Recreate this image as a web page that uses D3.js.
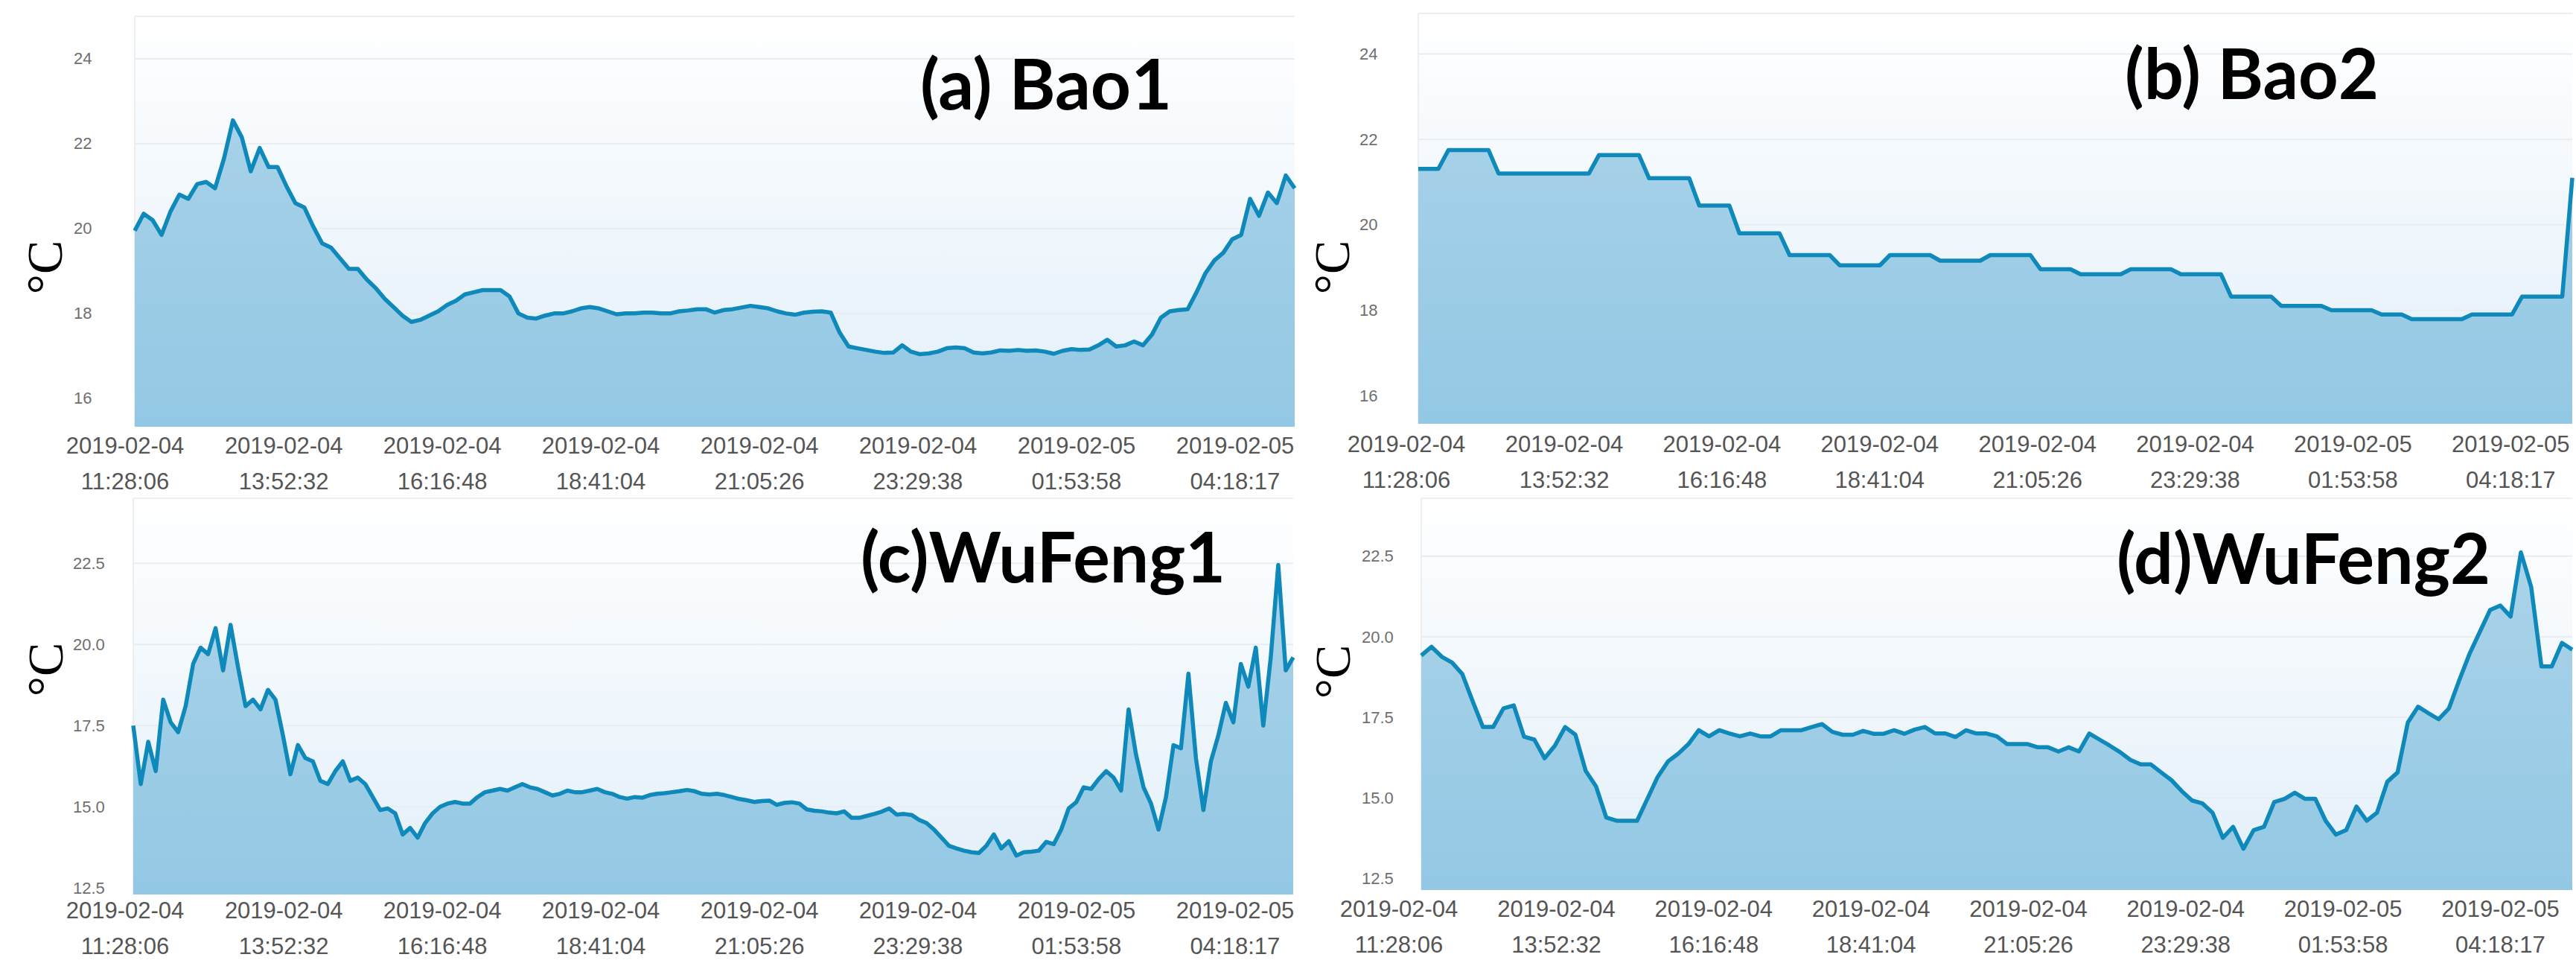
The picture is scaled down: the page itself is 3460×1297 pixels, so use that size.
<!DOCTYPE html>
<html><head><meta charset="utf-8">
<script src="https://cdn.jsdelivr.net/npm/d3@7"></script>
<style>body{margin:0;background:#fff}svg{display:block}</style></head>
<body><svg id="chart" width="3460" height="1297"></svg>
<script>
// ---------- data ----------
const startTime = "2019-02-04 11:28:06";
const endTime   = "2019-02-05 05:03:43";
const tickDates = ["2019-02-04","2019-02-04","2019-02-04","2019-02-04","2019-02-04","2019-02-04","2019-02-05","2019-02-05"];
const tickClock = ["11:28:06","13:52:32","16:16:48","18:41:04","21:05:26","23:29:38","01:53:58","04:18:17"];
const yTicksBao = [16, 18, 20, 22, 24];
const yTicksWu  = [12.5, 15, 17.5, 20, 22.5];
const titles = ["(a) Bao1", "(b) Bao2", "(c)WuFeng1", "(d)WuFeng2"];

const seriesBao1 = [19.95,20.35,20.2,19.85,20.4,20.8,20.7,21.05,21.1,20.95,
21.65,22.55,22.15,21.35,21.9,21.45,21.45,21.0,20.6,20.5,
20.05,19.65,19.55,19.3,19.05,19.05,18.8,18.6,18.35,18.15,
17.95,17.8,17.85,17.95,18.05,18.2,18.3,18.45,18.5,18.55,
18.55,18.55,18.4,18.0,17.9,17.88,17.95,18.0,18.0,18.05,
18.12,18.15,18.12,18.05,17.98,18.0,18.0,18.02,18.02,18.0,
18.0,18.05,18.07,18.1,18.1,18.02,18.08,18.1,18.14,18.18,
18.15,18.12,18.05,18.0,17.97,18.02,18.04,18.05,18.02,17.55,
17.22,17.18,17.14,17.1,17.07,17.08,17.25,17.1,17.04,17.06,
17.1,17.18,17.2,17.18,17.08,17.06,17.08,17.13,17.12,17.14,
17.12,17.13,17.1,17.05,17.12,17.16,17.14,17.15,17.25,17.38,
17.22,17.25,17.34,17.25,17.5,17.9,18.05,18.08,18.1,18.5,
18.95,19.25,19.43,19.75,19.85,20.7,20.3,20.85,20.6,21.25,
20.95];

const seriesBao2 = [21.31,21.31,21.31,21.75,21.75,21.75,21.75,21.75,21.2,21.2,
21.2,21.2,21.2,21.2,21.2,21.2,21.2,21.2,21.63,21.63,
21.63,21.63,21.63,21.09,21.09,21.09,21.09,21.09,20.45,20.45,
20.45,20.45,19.8,19.8,19.8,19.8,19.8,19.29,19.29,19.29,
19.29,19.29,19.05,19.05,19.05,19.05,19.05,19.29,19.29,19.29,
19.29,19.29,19.16,19.16,19.16,19.16,19.16,19.29,19.29,19.29,
19.29,19.29,18.96,18.96,18.96,18.96,18.84,18.84,18.84,18.84,
18.84,18.96,18.96,18.96,18.96,18.96,18.84,18.84,18.84,18.84,
18.84,18.32,18.32,18.32,18.32,18.32,18.1,18.1,18.1,18.1,
18.1,18.0,18.0,18.0,18.0,18.0,17.9,17.9,17.9,17.79,
17.79,17.79,17.79,17.79,17.79,17.9,17.9,17.9,17.9,17.9,
18.32,18.32,18.32,18.32,18.32,21.1];

const seriesWuFeng1 = [17.5,15.7,17.0,16.1,18.3,17.6,17.3,18.1,19.4,19.9,
19.7,20.5,19.2,20.6,19.3,18.1,18.3,18.0,18.6,18.3,
17.2,16.0,16.9,16.5,16.4,15.8,15.7,16.1,16.4,15.8,
15.9,15.7,15.3,14.9,14.95,14.8,14.15,14.35,14.05,14.5,
14.8,15.0,15.1,15.15,15.1,15.1,15.3,15.45,15.5,15.55,
15.5,15.6,15.7,15.6,15.55,15.45,15.35,15.4,15.5,15.45,
15.45,15.5,15.55,15.45,15.4,15.3,15.25,15.3,15.28,15.36,
15.4,15.42,15.45,15.48,15.52,15.48,15.4,15.38,15.4,15.36,
15.3,15.24,15.2,15.15,15.18,15.19,15.06,15.12,15.14,15.1,
14.92,14.88,14.86,14.82,14.8,14.86,14.66,14.66,14.72,14.78,
14.85,14.95,14.76,14.78,14.75,14.6,14.5,14.3,14.05,13.8,
13.72,13.65,13.6,13.58,13.8,14.15,13.72,13.94,13.5,13.6,
13.62,13.65,13.92,13.85,14.3,14.95,15.14,15.6,15.55,15.85,
16.1,15.9,15.5,18.0,16.6,15.6,15.1,14.3,15.3,16.9,
16.8,19.1,16.5,14.9,16.4,17.2,18.2,17.6,19.4,18.7,
19.9,17.5,19.6,22.45,19.2,19.6];

const seriesWuFeng2 = [19.42,19.69,19.38,19.2,18.84,18.0,17.2,17.2,17.78,17.87,
16.9,16.81,16.23,16.62,17.2,16.96,15.84,15.36,14.39,14.29,
14.29,14.29,14.97,15.65,16.13,16.37,16.67,17.1,16.91,17.1,
17.0,16.91,17.0,16.91,16.91,17.1,17.1,17.1,17.2,17.29,
17.05,16.96,16.96,17.08,16.99,16.99,17.1,16.99,17.12,17.2,
17.0,17.0,16.89,17.1,17.0,17.0,16.91,16.67,16.67,16.67,
16.57,16.57,16.44,16.57,16.44,17.0,16.81,16.62,16.42,16.18,
16.04,16.04,15.79,15.55,15.21,14.92,14.83,14.54,13.76,14.1,
13.42,14.0,14.1,14.87,14.97,15.16,14.97,14.97,14.29,13.86,
14.0,14.73,14.29,14.54,15.5,15.79,17.34,17.83,17.63,17.44,
17.78,18.65,19.47,20.15,20.83,20.97,20.63,22.62,21.55,19.08,
19.08,19.81,19.6];

// ---------- layout ----------
const panels = [
  {title: titles[0], data: seriesBao1, yTicks: yTicksBao, dec: 0,
   left: 181, right: 1739, top: 22, bottom: 573, yMin: 15.33, yMax: 25,
   yLabX: 99, unitX: 60, unitY: 359, lab1: 609, lab2: 657, labShift: -13,
   tX: 1236, tBase: 147, tW: 338},
  {title: titles[1], data: seriesBao2, yTicks: yTicksBao, dec: 0,
   left: 1905, right: 3455, top: 18, bottom: 569, yMin: 15.34, yMax: 24.95,
   yLabX: 1826, unitX: 1789, unitY: 359, lab1: 607, lab2: 655, labShift: -16,
   tX: 2854, tBase: 133, tW: 341},
  {title: titles[2], data: seriesWuFeng1, yTicks: yTicksWu, dec: 1,
   left: 179, right: 1737, top: 669, bottom: 1201, yMin: 12.3, yMax: 24.5,
   yLabX: 98, unitX: 61, unitY: 899, lab1: 1233, lab2: 1281, labShift: -11,
   tX: 1156, tBase: 782, tW: 490},
  {title: titles[3], data: seriesWuFeng2, yTicks: yTicksWu, dec: 1,
   left: 1909, right: 3455, top: 669, bottom: 1195, yMin: 12.14, yMax: 24.3,
   yLabX: 1829, unitX: 1790, unitY: 902, lab1: 1231, lab2: 1279, labShift: -30,
   tX: 2843, tBase: 784, tW: 502}
];

const parse = d3.timeParse("%Y-%m-%d %H:%M:%S");
const t0 = parse(startTime), t1 = parse(endTime);
const svg = d3.select("#chart");
svg.append("rect").attr("width", 3460).attr("height", 1297).attr("fill", "#fff");
const defs = svg.append("defs");

panels.forEach((p, pi) => {
  const x = d3.scaleTime().domain([t0, t1]).range([p.left, p.right]);
  const y = d3.scaleLinear().domain([p.yMin, p.yMax]).range([p.bottom, p.top]);
  const n = p.data.length;
  const step = (t1 - t0) / (n - 1);
  const pts = p.data.map((v, i) => ({t: new Date(+t0 + i * step), v}));

  const bg = defs.append("linearGradient").attr("id", "bg" + pi)
    .attr("gradientUnits", "userSpaceOnUse").attr("x1", 0).attr("x2", 0)
    .attr("y1", p.top).attr("y2", p.bottom);
  bg.append("stop").attr("offset", 0).attr("stop-color", "#ffffff");
  bg.append("stop").attr("offset", 1).attr("stop-color", "#e2eff9");
  const ag = defs.append("linearGradient").attr("id", "ag" + pi)
    .attr("gradientUnits", "userSpaceOnUse").attr("x1", 0).attr("x2", 0)
    .attr("y1", p.top).attr("y2", p.bottom);
  ag.append("stop").attr("offset", 0).attr("stop-color", "#aed5ea");
  ag.append("stop").attr("offset", 1).attr("stop-color", "#93c8e4");

  const g = svg.append("g");
  g.append("rect").attr("x", p.left).attr("y", p.top)
    .attr("width", p.right - p.left).attr("height", p.bottom - p.top)
    .attr("fill", `url(#bg${pi})`);
  g.append("line").attr("x1", p.left).attr("x2", p.right)
    .attr("y1", p.top).attr("y2", p.top).attr("stroke", "#eceef0").attr("stroke-width", 2);
  g.append("line").attr("x1", p.left).attr("x2", p.left)
    .attr("y1", p.top).attr("y2", p.bottom).attr("stroke", "#eceef0").attr("stroke-width", 2);

  // grid + y labels
  g.selectAll(".grid").data(p.yTicks).enter().append("line")
    .attr("x1", p.left).attr("x2", p.right)
    .attr("y1", d => y(d)).attr("y2", d => y(d))
    .attr("stroke", "#e8edf2").attr("stroke-width", 2);
  g.selectAll(".ylab").data(p.yTicks).enter().append("text")
    .attr("x", p.yLabX).attr("y", d => y(d))
    .attr("dominant-baseline", "central")
    .attr("font-family", "Liberation Sans, Arial, sans-serif")
    .attr("font-size", 22).attr("fill", "#6f6f6f")
    .text(d => d.toFixed(p.dec));

  // area + line
  const area = d3.area().x(d => x(d.t)).y0(p.bottom).y1(d => y(d.v));
  const line = d3.line().x(d => x(d.t)).y(d => y(d.v));
  g.append("path").datum(pts).attr("d", area).attr("fill", `url(#ag${pi})`);
  g.append("path").datum(pts).attr("d", line).attr("fill", "none")
    .attr("stroke", "#0f88ba").attr("stroke-width", 5.5)
    .attr("stroke-linejoin", "round");

  // x tick labels
  const ticks = tickDates.map((d, i) => ({date: d, clock: tickClock[i], t: parse(d + " " + tickClock[i])}));
  const xl = g.selectAll(".xlab").data(ticks).enter().append("g");
  xl.append("text").attr("x", d => x(d.t) + p.labShift).attr("y", p.lab1)
    .attr("text-anchor", "middle").attr("font-family", "Liberation Sans, Arial, sans-serif")
    .attr("font-size", 31).attr("fill", "#555").text(d => d.date);
  xl.append("text").attr("x", d => x(d.t) + p.labShift).attr("y", p.lab2)
    .attr("text-anchor", "middle").attr("font-family", "Liberation Sans, Arial, sans-serif")
    .attr("font-size", 31).attr("fill", "#555").text(d => d.clock);

  // unit label
  g.append("text").attr("transform", `translate(${p.unitX},${p.unitY}) rotate(-90)`)
    .attr("text-anchor", "middle").attr("dominant-baseline", "central")
    .attr("font-family", "Liberation Serif, Times New Roman, serif")
    .attr("font-size", 68).attr("fill", "#000").text("°C");

  // panel title
  g.append("text").attr("x", p.tX).attr("y", p.tBase)
    .attr("font-family", "Lato, Open Sans, sans-serif").attr("font-weight", 700)
    .attr("font-size", 94).attr("fill", "#000")
    .attr("textLength", p.tW).attr("lengthAdjust", "spacingAndGlyphs")
    .text(p.title);
});
</script></body></html>
